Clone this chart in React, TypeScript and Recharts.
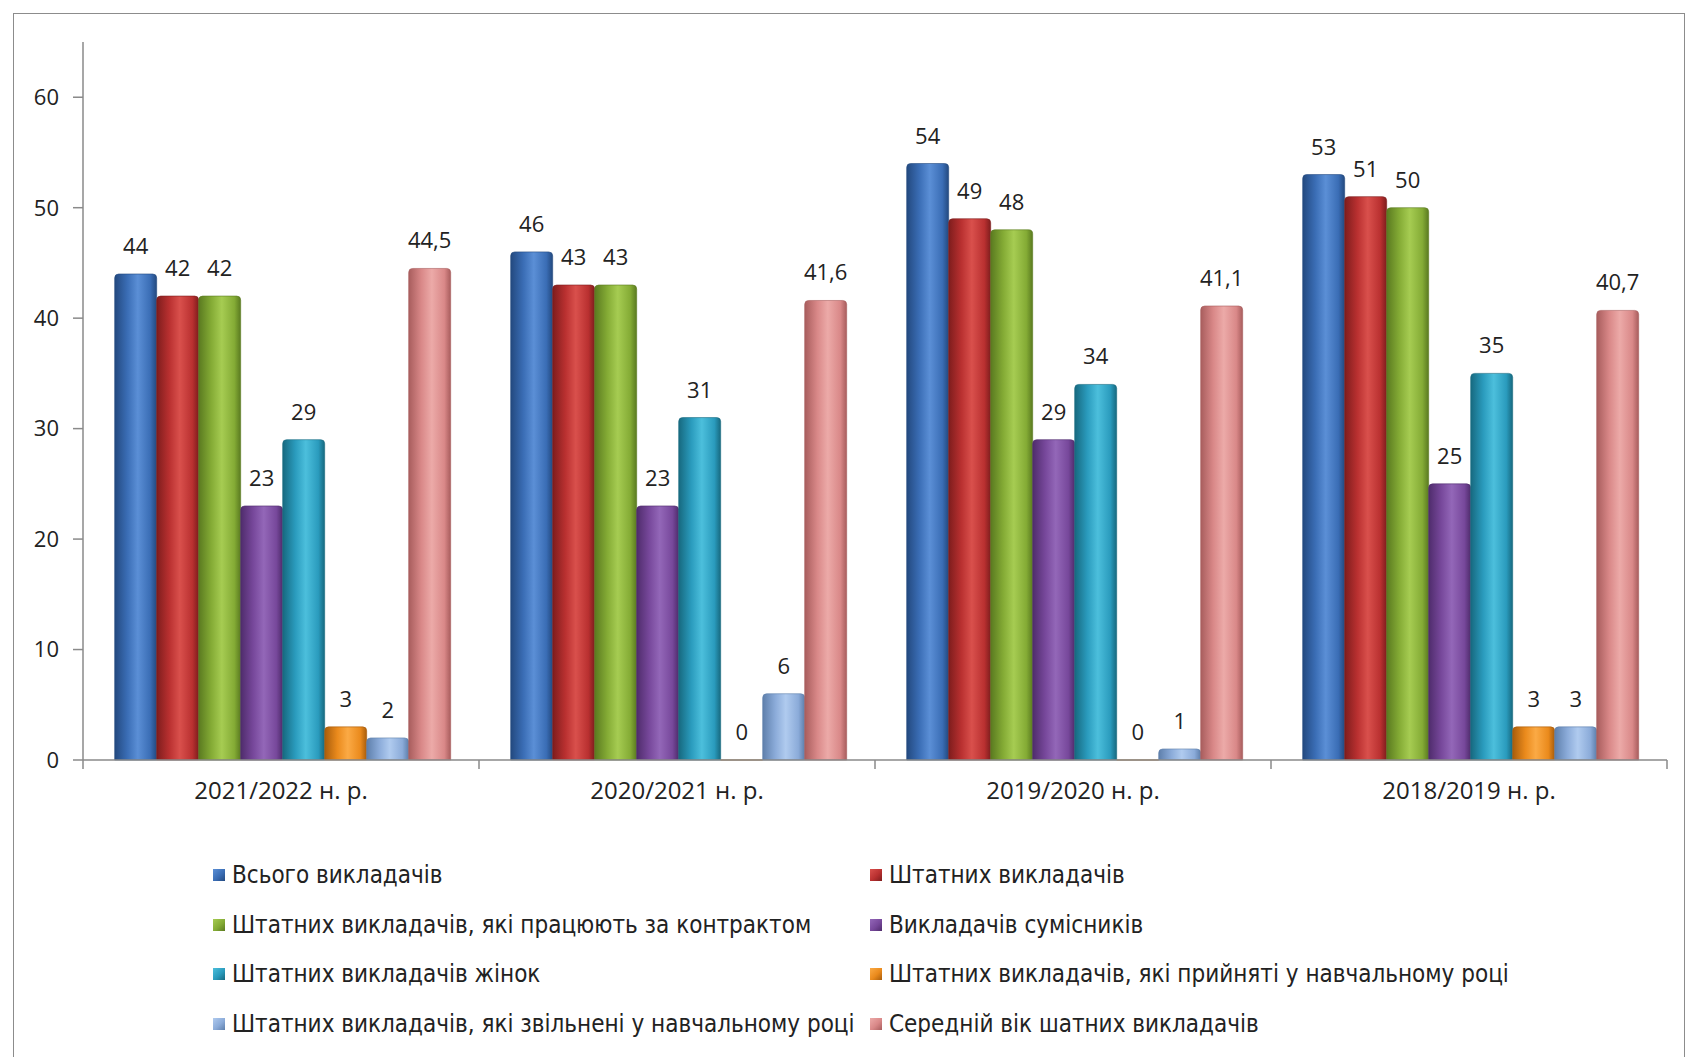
import React from 'react';
import { BarChart, Bar, XAxis, YAxis, LabelList, Legend } from 'recharts';

const categories = ['2021/2022 н. р.', '2020/2021 н. р.', '2019/2020 н. р.', '2018/2019 н. р.'];

const seriesNames = [
  'Всього викладачів',
  'Штатних викладачів',
  'Штатних викладачів, які працюють за контрактом',
  'Викладачів сумісників',
  'Штатних викладачів жінок',
  'Штатних викладачів, які прийняті у навчальному році',
  'Штатних викладачів, які звільнені у навчальному році',
  'Середній вік шатних викладачів',
];

const allTeachers = [44, 46, 54, 53];
const staffTeachers = [42, 43, 49, 51];
const contractTeachers = [42, 43, 48, 50];
const partTimeTeachers = [23, 23, 29, 25];
const womenTeachers = [29, 31, 34, 35];
const hiredTeachers = [3, 0, 0, 3];
const dismissedTeachers = [2, 6, 1, 3];
const averageAge = [44.5, 41.6, 41.1, 40.7];

const seriesValues = [
  allTeachers,
  staffTeachers,
  contractTeachers,
  partTimeTeachers,
  womenTeachers,
  hiredTeachers,
  dismissedTeachers,
  averageAge,
];

const yTicks = [0, 10, 20, 30, 40, 50, 60];

// base, light centre, dark edge
const colors = [
  ['#3a6db5', '#5b8fd6', '#23497f'],
  ['#b93030', '#d9504c', '#7e1d1d'],
  ['#84ab35', '#a6cc52', '#5a7a20'],
  ['#77489b', '#9367b8', '#4f2c6c'],
  ['#2a9bbd', '#4cbfdc', '#17697f'],
  ['#ea8a1c', '#fbaa45', '#a85d0c'],
  ['#8babd9', '#b0cbef', '#5e7fab'],
  ['#d98888', '#ecaaa8', '#a85d5d'],
];

const data = categories.map((name, i) => {
  const row: Record<string, string | number> = { name };
  seriesValues.forEach((vals, s) => {
    row['s' + s] = vals[i];
  });
  return row;
});

const fmt = (v: any) => String(v).replace('.', ',');

// zero bars get a hairline height so their "0" label is still drawn
const zeroMin = (v: any) => (v === 0 ? 0.01 : 0);

const CategoryTick = (props: any) => {
  const { x, y, payload, index } = props;
  const half = payload && payload.offset ? payload.offset : 198;
  return (
    <g>
      <line x1={x - half} y1={y} x2={x - half} y2={y + 9} stroke="#8a8a8a" strokeWidth={1.5} />
      {index === categories.length - 1 && (
        <line x1={x + half} y1={y} x2={x + half} y2={y + 9} stroke="#8a8a8a" strokeWidth={1.5} />
      )}
      <text x={x} y={y + 22} dy="0.71em" textAnchor="middle" fill="#222" fontSize={24} fontFamily="'Open Sans', sans-serif">
        {payload.value}
      </text>
    </g>
  );
};

const legendRows = [50, 100, 149, 199];
const legendCols = [205, 862];

const renderLegend = () => (
  <div style={{ position: 'relative', width: 1600, height: 247, fontFamily: "'DejaVu Sans Condensed', 'DejaVu Sans', sans-serif", fontSize: 24, color: '#222' }}>
    {seriesNames.map((name, i) => {
      const col = i % 2;
      const row = Math.floor(i / 2);
      return (
        <div
          key={name}
          style={{ position: 'absolute', left: legendCols[col], top: legendRows[row], display: 'flex', alignItems: 'center', whiteSpace: 'nowrap', height: 30 }}
        >
          <span
            style={{
              display: 'inline-block',
              width: 12,
              height: 12,
              marginRight: 7,
              background: `linear-gradient(135deg, ${colors[i][1]}, ${colors[i][0]} 55%, ${colors[i][2]})`,
            }}
          />
          {name}
        </div>
      );
    })}
  </div>
);

export default function App() {
  return (
    <div style={{ position: 'relative', width: 1679, height: 1049, background: '#fff' }}>
      <div style={{ position: 'absolute', left: 5, top: 5, width: 1672, height: 1046, border: '1.5px solid #8c8c8c', boxSizing: 'border-box' }} />
      <BarChart
        width={1679}
        height={1049}
        data={data}
        margin={{ top: 34, right: 20, bottom: 0, left: 0 }}
        barGap={0}
        barCategoryGap="8%"
      >
        <defs>
          {colors.map((c, i) => (
            <linearGradient key={i} id={'grad' + i} x1="0" y1="0" x2="1" y2="0">
              <stop offset="0%" stopColor={c[2]} />
              <stop offset="30%" stopColor={c[0]} />
              <stop offset="55%" stopColor={c[1]} />
              <stop offset="85%" stopColor={c[0]} />
              <stop offset="100%" stopColor={c[2]} />
            </linearGradient>
          ))}
        </defs>
        <XAxis
          dataKey="name"
          type="category"
          height={50}
          axisLine={{ stroke: '#8a8a8a', strokeWidth: 1.5 }}
          tickLine={false}
          tickSize={0}
          tickMargin={0}
          interval={0}
          tick={<CategoryTick />}
        />
        <YAxis
          width={75}
          domain={[0, 65]}
          ticks={yTicks}
          interval={0}
          axisLine={{ stroke: '#8a8a8a', strokeWidth: 1.5 }}
          tickLine={{ stroke: '#8a8a8a', strokeWidth: 1.5 }}
          tickSize={10}
          tickMargin={14}
          tick={{ fill: '#222', fontSize: 22, fontFamily: "'Open Sans', sans-serif" }}
        />
        <Legend verticalAlign="bottom" align="left" content={renderLegend} />
        {seriesNames.map((name, i) => (
          <Bar
            key={name}
            dataKey={'s' + i}
            name={name}
            fill={`url(#grad${i})`}
            stroke={colors[i][2]}
            strokeWidth={0.6}
            radius={[4, 4, 0, 0]}
            minPointSize={zeroMin}
            isAnimationActive={false}
          >
            <LabelList
              dataKey={'s' + i}
              position="top"
              offset={20}
              formatter={fmt}
              style={{ fill: '#222', fontSize: 22, fontFamily: "'Open Sans', sans-serif" }}
            />
          </Bar>
        ))}
      </BarChart>
    </div>
  );
}
